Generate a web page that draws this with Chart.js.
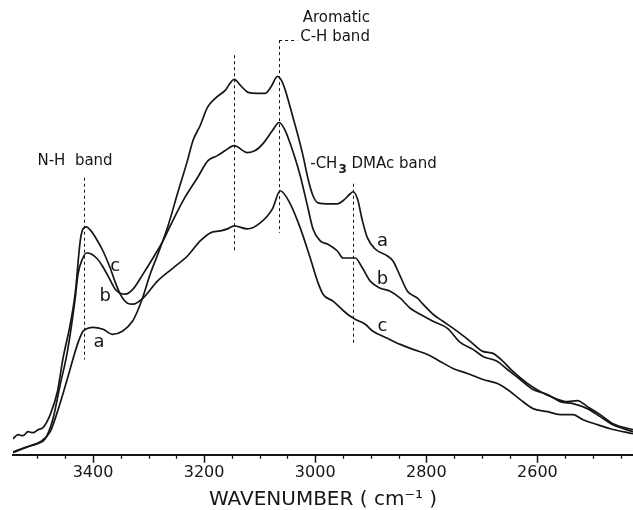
<!DOCTYPE html>
<html lang="en">
<head>
    <meta charset="UTF-8">
    <title>IR spectra - N-H, aromatic C-H and DMAc bands</title>
    <script src="https://cdn.jsdelivr.net/npm/chart.js"></script>
    <style>
        html, body {
            margin: 0;
            padding: 0;
            background: #fff;
        }

        .chart-box {
            position: relative;
            width: 633px;
            height: 510px;
        }
    </style>
</head>
<body>
    <div class="chart-box">
        <canvas id="irChart"></canvas>
    </div>

    <script>
        // wavenumber (cm-1) and absorbance (arbitrary units)
        const waveA = [3544, 3531, 3513, 3495, 3477, 3464, 3446, 3428, 3418, 3409, 3400, 3382, 3365, 3347, 3329, 3320, 3311, 3297, 3279, 3265, 3248, 3230, 3220, 3207, 3194, 3180, 3162, 3146, 3133, 3121, 3104, 3090, 3079, 3068, 3059, 3050, 3041, 3032, 3022, 3013, 3004, 2995, 2973, 2960, 2950, 2937, 2932, 2924, 2915, 2906, 2892, 2870, 2860, 2847, 2834, 2816, 2806, 2788, 2770, 2744, 2721, 2698, 2680, 2662, 2644, 2618, 2595, 2572, 2546, 2528, 2510, 2487, 2464, 2428];
        const absA = [0.5, 1.25, 2.25, 3.25, 5.75, 10.75, 19, 27.5, 30.75, 31.5, 31.75, 31.25, 30, 30.75, 33.25, 35.75, 39, 45, 51.5, 57, 65, 73.25, 78.25, 82, 86.5, 88.75, 90.75, 93.5, 91.75, 90.25, 90, 90, 91.75, 94.25, 92.75, 89, 84.5, 80, 74.5, 68.75, 64.5, 62.75, 62.5, 62.5, 63.25, 65, 65.5, 63.75, 58.25, 54, 51.25, 49.5, 48.25, 44.5, 40.75, 39, 37.5, 35, 33.25, 30.75, 28.25, 25.75, 25.25, 23.25, 20.75, 17.75, 15.75, 14.25, 13.25, 13.5, 12, 10, 7.75, 6.25];

        const waveB = [3544, 3518, 3500, 3486, 3472, 3459, 3446, 3432, 3427, 3419, 3412, 3403, 3392, 3382, 3369, 3360, 3351, 3342, 3328, 3310, 3292, 3274, 3261, 3238, 3212, 3193, 3176, 3162, 3146, 3122, 3108, 3094, 3077, 3065, 3054, 3045, 3027, 3014, 3004, 2991, 2978, 2960, 2950, 2928, 2915, 2901, 2883, 2865, 2847, 2829, 2811, 2788, 2762, 2739, 2716, 2698, 2672, 2654, 2631, 2608, 2582, 2559, 2536, 2510, 2487, 2464, 2428];
        const absB = [0.75, 2, 2.75, 4, 9, 17.5, 25.75, 39, 45, 48.75, 50.25, 50, 48.75, 46.75, 43.5, 41.25, 40.25, 40, 41.25, 45, 49, 53.25, 57, 63.25, 69, 73.25, 74.5, 75.75, 77, 75.25, 75.75, 77.5, 80.75, 82.75, 80.75, 77.5, 69.5, 62, 56.25, 53.25, 52.5, 50.75, 49, 49, 46.5, 43.25, 41.5, 40.75, 39, 36.5, 35, 33.25, 31.5, 28, 26.25, 24.5, 23.25, 21.25, 18.75, 16.25, 15, 13.25, 12.75, 11.5, 9.5, 7.5, 5.75];

        const waveC = [3544, 3535, 3526, 3517, 3508, 3499, 3490, 3477, 3464, 3454, 3441, 3432, 3423, 3418, 3412, 3405, 3396, 3382, 3369, 3360, 3351, 3338, 3328, 3310, 3284, 3256, 3230, 3207, 3189, 3171, 3158, 3146, 3122, 3099, 3077, 3063, 3045, 3027, 3009, 2996, 2986, 2968, 2942, 2928, 2910, 2896, 2870, 2847, 2824, 2798, 2775, 2752, 2726, 2698, 2672, 2654, 2631, 2608, 2582, 2559, 2536, 2518, 2492, 2469, 2428];
        const absC = [4, 5, 4.75, 5.75, 5.5, 6.25, 6.75, 10, 15.75, 24, 32.5, 40.25, 53.25, 56.25, 56.75, 56, 54.25, 50.75, 46.5, 43, 40, 37.75, 37.5, 39, 43.25, 46.5, 49.5, 53.25, 55.25, 55.75, 56.25, 57, 56.25, 57.75, 61.25, 65.75, 62.5, 56.5, 49, 43.25, 40, 38.25, 35, 33.75, 32.5, 30.75, 29, 27.5, 26.25, 25, 23.25, 21.5, 20.25, 18.75, 17.75, 16.25, 13.75, 11.5, 10.75, 10, 10, 8.75, 7.5, 6.5, 5.25];

        const curveNames = ['a', 'b', 'c'];
        const tickValues = [3400, 3200, 3000, 2800, 2600];
        // band positions marked with dashed lines (cm-1)
        const bandWaves = [3417, 3146, 3065, 2932];

        const ink = '#161616';
        const fontFamily = '"DejaVu Sans", sans-serif';

        function toPoints(waves, abs) {
            return waves.map((w, i) => ({ x: w, y: abs[i] }));
        }

        function makeSet(name, waves, abs) {
            return {
                label: name,
                data: toPoints(waves, abs),
                borderColor: ink,
                borderWidth: 1.7,
                pointRadius: 0,
                cubicInterpolationMode: 'monotone',
                fill: false
            };
        }

        // dashed markers, minor ticks and the band / curve labels
        const annotations = {
            id: 'annotations',
            afterDatasetsDraw(chart) {
                const { ctx, scales: { x, y } } = chart;
                const bottom = y.getPixelForValue(0);
                ctx.save();

                // minor ticks every 50 cm-1
                ctx.strokeStyle = ink;
                ctx.lineWidth = 1.3;
                for (let w = 2450; w <= 3500; w += 50) {
                    if (w % 200 === 0) continue;
                    const px = Math.round(x.getPixelForValue(w)) + 0.5;
                    ctx.beginPath();
                    ctx.moveTo(px, bottom);
                    ctx.lineTo(px, bottom + 4);
                    ctx.stroke();
                }

                // dashed band markers: [lower value, upper value]
                const spans = [[23.75, 69], [50.75, 99.5], [55.25, 103.25], [27.5, 67.5]];
                ctx.setLineDash([3, 3]);
                ctx.lineWidth = 1;
                bandWaves.forEach((w, i) => {
                    const px = Math.round(x.getPixelForValue(w)) + 0.5;
                    ctx.beginPath();
                    ctx.moveTo(px, y.getPixelForValue(spans[i][1]));
                    ctx.lineTo(px, y.getPixelForValue(spans[i][0]));
                    ctx.stroke();
                });
                // little leader from the aromatic line to its label
                const leadY = Math.round(y.getPixelForValue(103.25)) + 0.5;
                ctx.beginPath();
                ctx.moveTo(x.getPixelForValue(bandWaves[2]), leadY);
                ctx.lineTo(x.getPixelForValue(3032), leadY);
                ctx.stroke();
                ctx.setLineDash([]);

                // band labels
                ctx.fillStyle = ink;
                ctx.font = '15px ' + fontFamily;
                ctx.textBaseline = 'middle';
                ctx.textAlign = 'left';
                ctx.fillText('N-H  band', x.getPixelForValue(3500), y.getPixelForValue(73.25));
                ctx.fillText('C-H band', x.getPixelForValue(3027), y.getPixelForValue(104));
                ctx.textAlign = 'center';
                ctx.fillText('Aromatic', x.getPixelForValue(2962), y.getPixelForValue(108.75));

                ctx.textAlign = 'left';
                let tx = x.getPixelForValue(3009);
                const ty = y.getPixelForValue(72.5);
                ctx.fillText('-CH', tx, ty);
                tx += ctx.measureText('-CH').width;
                ctx.font = 'bold 12px ' + fontFamily;
                ctx.fillText('3', tx + 1, ty + 6);
                tx += ctx.measureText('3').width + 1;
                ctx.font = '15px ' + fontFamily;
                ctx.fillText(' DMAc band', tx, ty);

                // curve letters near the N-H band and on the right
                ctx.font = '18px ' + fontFamily;
                ctx.textAlign = 'center';
                const leftSpots = [[3389, 28], [3378, 39.5], [3360, 47]];
                const rightSpots = [[2879, 53.25], [2879, 43.75], [2879, 32]];
                curveNames.forEach((n, i) => {
                    ctx.fillText(n, x.getPixelForValue(leftSpots[i][0]), y.getPixelForValue(leftSpots[i][1]));
                    ctx.fillText(n, x.getPixelForValue(rightSpots[i][0]), y.getPixelForValue(rightSpots[i][1]));
                });

                ctx.restore();
            }
        };

        const irChart = new Chart(document.getElementById('irChart').getContext('2d'), {
            type: 'line',
            data: {
                datasets: [
                    makeSet(curveNames[0], waveA, absA),
                    makeSet(curveNames[1], waveB, absB),
                    makeSet(curveNames[2], waveC, absC)
                ]
            },
            options: {
                responsive: true,
                maintainAspectRatio: false,
                animation: false,
                devicePixelRatio: 1,
                layout: {
                    padding: { left: 13, right: 0, top: 0, bottom: 0 }
                },
                plugins: {
                    legend: { display: false },
                    tooltip: { enabled: false }
                },
                scales: {
                    x: {
                        type: 'linear',
                        reverse: true,
                        min: 2428,
                        max: 3544,
                        afterBuildTicks: (scale) => {
                            scale.ticks = tickValues.map(v => ({ value: v }));
                        },
                        ticks: {
                            color: ink,
                            padding: 0,
                            maxRotation: 0,
                            font: { family: fontFamily, size: 16 },
                            callback: (value) => String(value)
                        },
                        grid: {
                            drawOnChartArea: false,
                            drawTicks: true,
                            tickLength: 8,
                            tickWidth: 1.5,
                            tickColor: ink
                        },
                        border: {
                            display: true,
                            color: ink,
                            width: 2
                        },
                        title: {
                            display: true,
                            text: 'WAVENUMBER ( cm\u207B\u00B9 )',
                            color: ink,
                            font: { family: fontFamily, size: 20, lineHeight: 1 },
                            padding: { top: 8, bottom: 0 }
                        }
                    },
                    y: {
                        display: false,
                        min: 0,
                        max: 113.25
                    }
                }
            },
            plugins: [annotations]
        });
    </script>
</body>
</html>
